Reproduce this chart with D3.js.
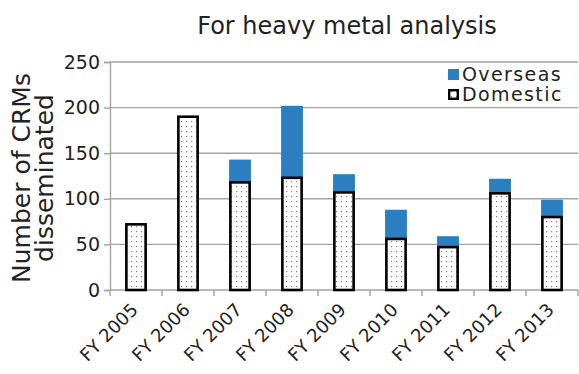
<!DOCTYPE html>
<html>
<head>
<meta charset="utf-8">
<script src="https://cdn.jsdelivr.net/npm/d3@7"></script>
<style>
  html, body { margin: 0; padding: 0; background: #fff; }
  svg { display: block; }
  text { font-family: "DejaVu Sans", sans-serif; fill: #222; }
</style>
</head>
<body>
<svg id="chart" width="579" height="374"></svg>
<script>
const categories = ["FY 2005","FY 2006","FY 2007","FY 2008","FY 2009","FY 2010","FY 2011","FY 2012","FY 2013"];
const domestic = [72, 190, 118, 123, 107, 56, 47, 106, 80];
const overseas = [0, 0, 25, 79, 20, 32, 12, 16, 19];
const yTicks = [0, 50, 100, 150, 200, 250];
const seriesNames = ["Overseas", "Domestic"];
const title = "For heavy metal analysis";
const yTitle = ["Number of CRMs", "disseminated"];

const svg = d3.select("#chart");
const mLeft = 110, mRight = 578, mTop = 62, mBottom = 290;
const blue = "#2a7fc0", gridColor = "#a3a3a3";

const x = d3.scaleBand().domain(categories).range([mLeft, mRight]).paddingInner(0.58).paddingOuter(0.29);
const y = d3.scaleLinear().domain([0, 250]).range([mBottom, mTop]);

// pattern
const defs = svg.append("defs");
const pat = defs.append("pattern").attr("id", "dots").attr("patternUnits", "userSpaceOnUse")
  .attr("width", 5).attr("height", 5);
pat.append("rect").attr("width", 5).attr("height", 5).attr("fill", "#fff");
pat.append("rect").attr("x", 1).attr("y", 1).attr("width", 1.2).attr("height", 1.2).attr("fill", "#808080");

// gridlines
svg.append("g").selectAll("line").data(yTicks.filter(d => d > 0)).join("line")
  .attr("x1", mLeft).attr("x2", mRight).attr("y1", d => y(d)).attr("y2", d => y(d))
  .attr("stroke", gridColor).attr("stroke-width", 1.4);

// y axis
const yAxis = svg.append("g").attr("transform", `translate(${mLeft},0)`)
  .call(d3.axisLeft(y).tickValues(yTicks).tickSize(6).tickPadding(4));
yAxis.select(".domain").attr("stroke", gridColor).attr("stroke-width", 1.4);
yAxis.selectAll(".tick line").attr("stroke", gridColor).attr("stroke-width", 1.4);
yAxis.selectAll(".tick text").style("font-size", "19px").style("font-family", '"DejaVu Sans", sans-serif').attr("fill", "#222");

// x axis baseline + boundary ticks
const step = x.step();
const boundaries = d3.range(categories.length + 1).map(i => mLeft + i * step);
svg.append("line").attr("x1", mLeft).attr("x2", mRight).attr("y1", mBottom).attr("y2", mBottom)
  .attr("stroke", gridColor).attr("stroke-width", 1.4);
svg.append("g").selectAll("line").data(boundaries).join("line")
  .attr("x1", d => d).attr("x2", d => d).attr("y1", mBottom).attr("y2", mBottom + 6)
  .attr("stroke", gridColor).attr("stroke-width", 1.4);

// bars
const sw = 2.6;
const bw = x.bandwidth();
svg.append("g").selectAll("rect").data(categories.map((c, i) => ({c, d: domestic[i], o: overseas[i]})).filter(d => d.o > 0))
  .join("rect")
  .attr("x", d => x(d.c)).attr("width", bw)
  .attr("y", d => y(d.d + d.o)).attr("height", d => y(d.d) - y(d.d + d.o))
  .attr("fill", blue);
svg.append("g").selectAll("rect").data(categories.map((c, i) => ({c, d: domestic[i]})))
  .join("rect")
  .attr("x", d => x(d.c) + sw / 2).attr("width", bw - sw)
  .attr("y", d => y(d.d)).attr("height", d => y(0) - y(d.d))
  .attr("fill", "url(#dots)").attr("stroke", "#000").attr("stroke-width", sw);

// x labels
svg.append("g").selectAll("text").data(categories).join("text")
  .attr("transform", d => `translate(${x(d) + bw / 2 + 3},311) rotate(-45)`)
  .attr("text-anchor", "end")
  .style("font-size", "18px")
  .text(d => d);

// title
svg.append("text").attr("x", 347).attr("y", 34).attr("text-anchor", "middle")
  .style("font-size", "24px").text(title);

// y title
const yt = svg.append("text").attr("transform", "translate(0,178) rotate(-90)").attr("text-anchor", "middle")
  .style("font-size", "25px");
yt.append("tspan").attr("x", 0).attr("y", 30).text(yTitle[0]);
yt.append("tspan").attr("x", 0).attr("y", 53).text(yTitle[1]);

// legend
const lg = svg.append("g");
lg.append("rect").attr("x", 448).attr("y", 69).attr("width", 11).attr("height", 11).attr("fill", blue);
lg.append("rect").attr("x", 449.2).attr("y", 90.2).attr("width", 8.6).attr("height", 8.6)
  .attr("fill", "url(#dots)").attr("stroke", "#000").attr("stroke-width", 2.4);
lg.append("text").attr("x", 462).attr("y", 81).style("font-size", "19px").style("letter-spacing", "1.4px").text(seriesNames[0]);
lg.append("text").attr("x", 462).attr("y", 101).style("font-size", "19px").style("letter-spacing", "1.4px").text(seriesNames[1]);
</script>
</body>
</html>
